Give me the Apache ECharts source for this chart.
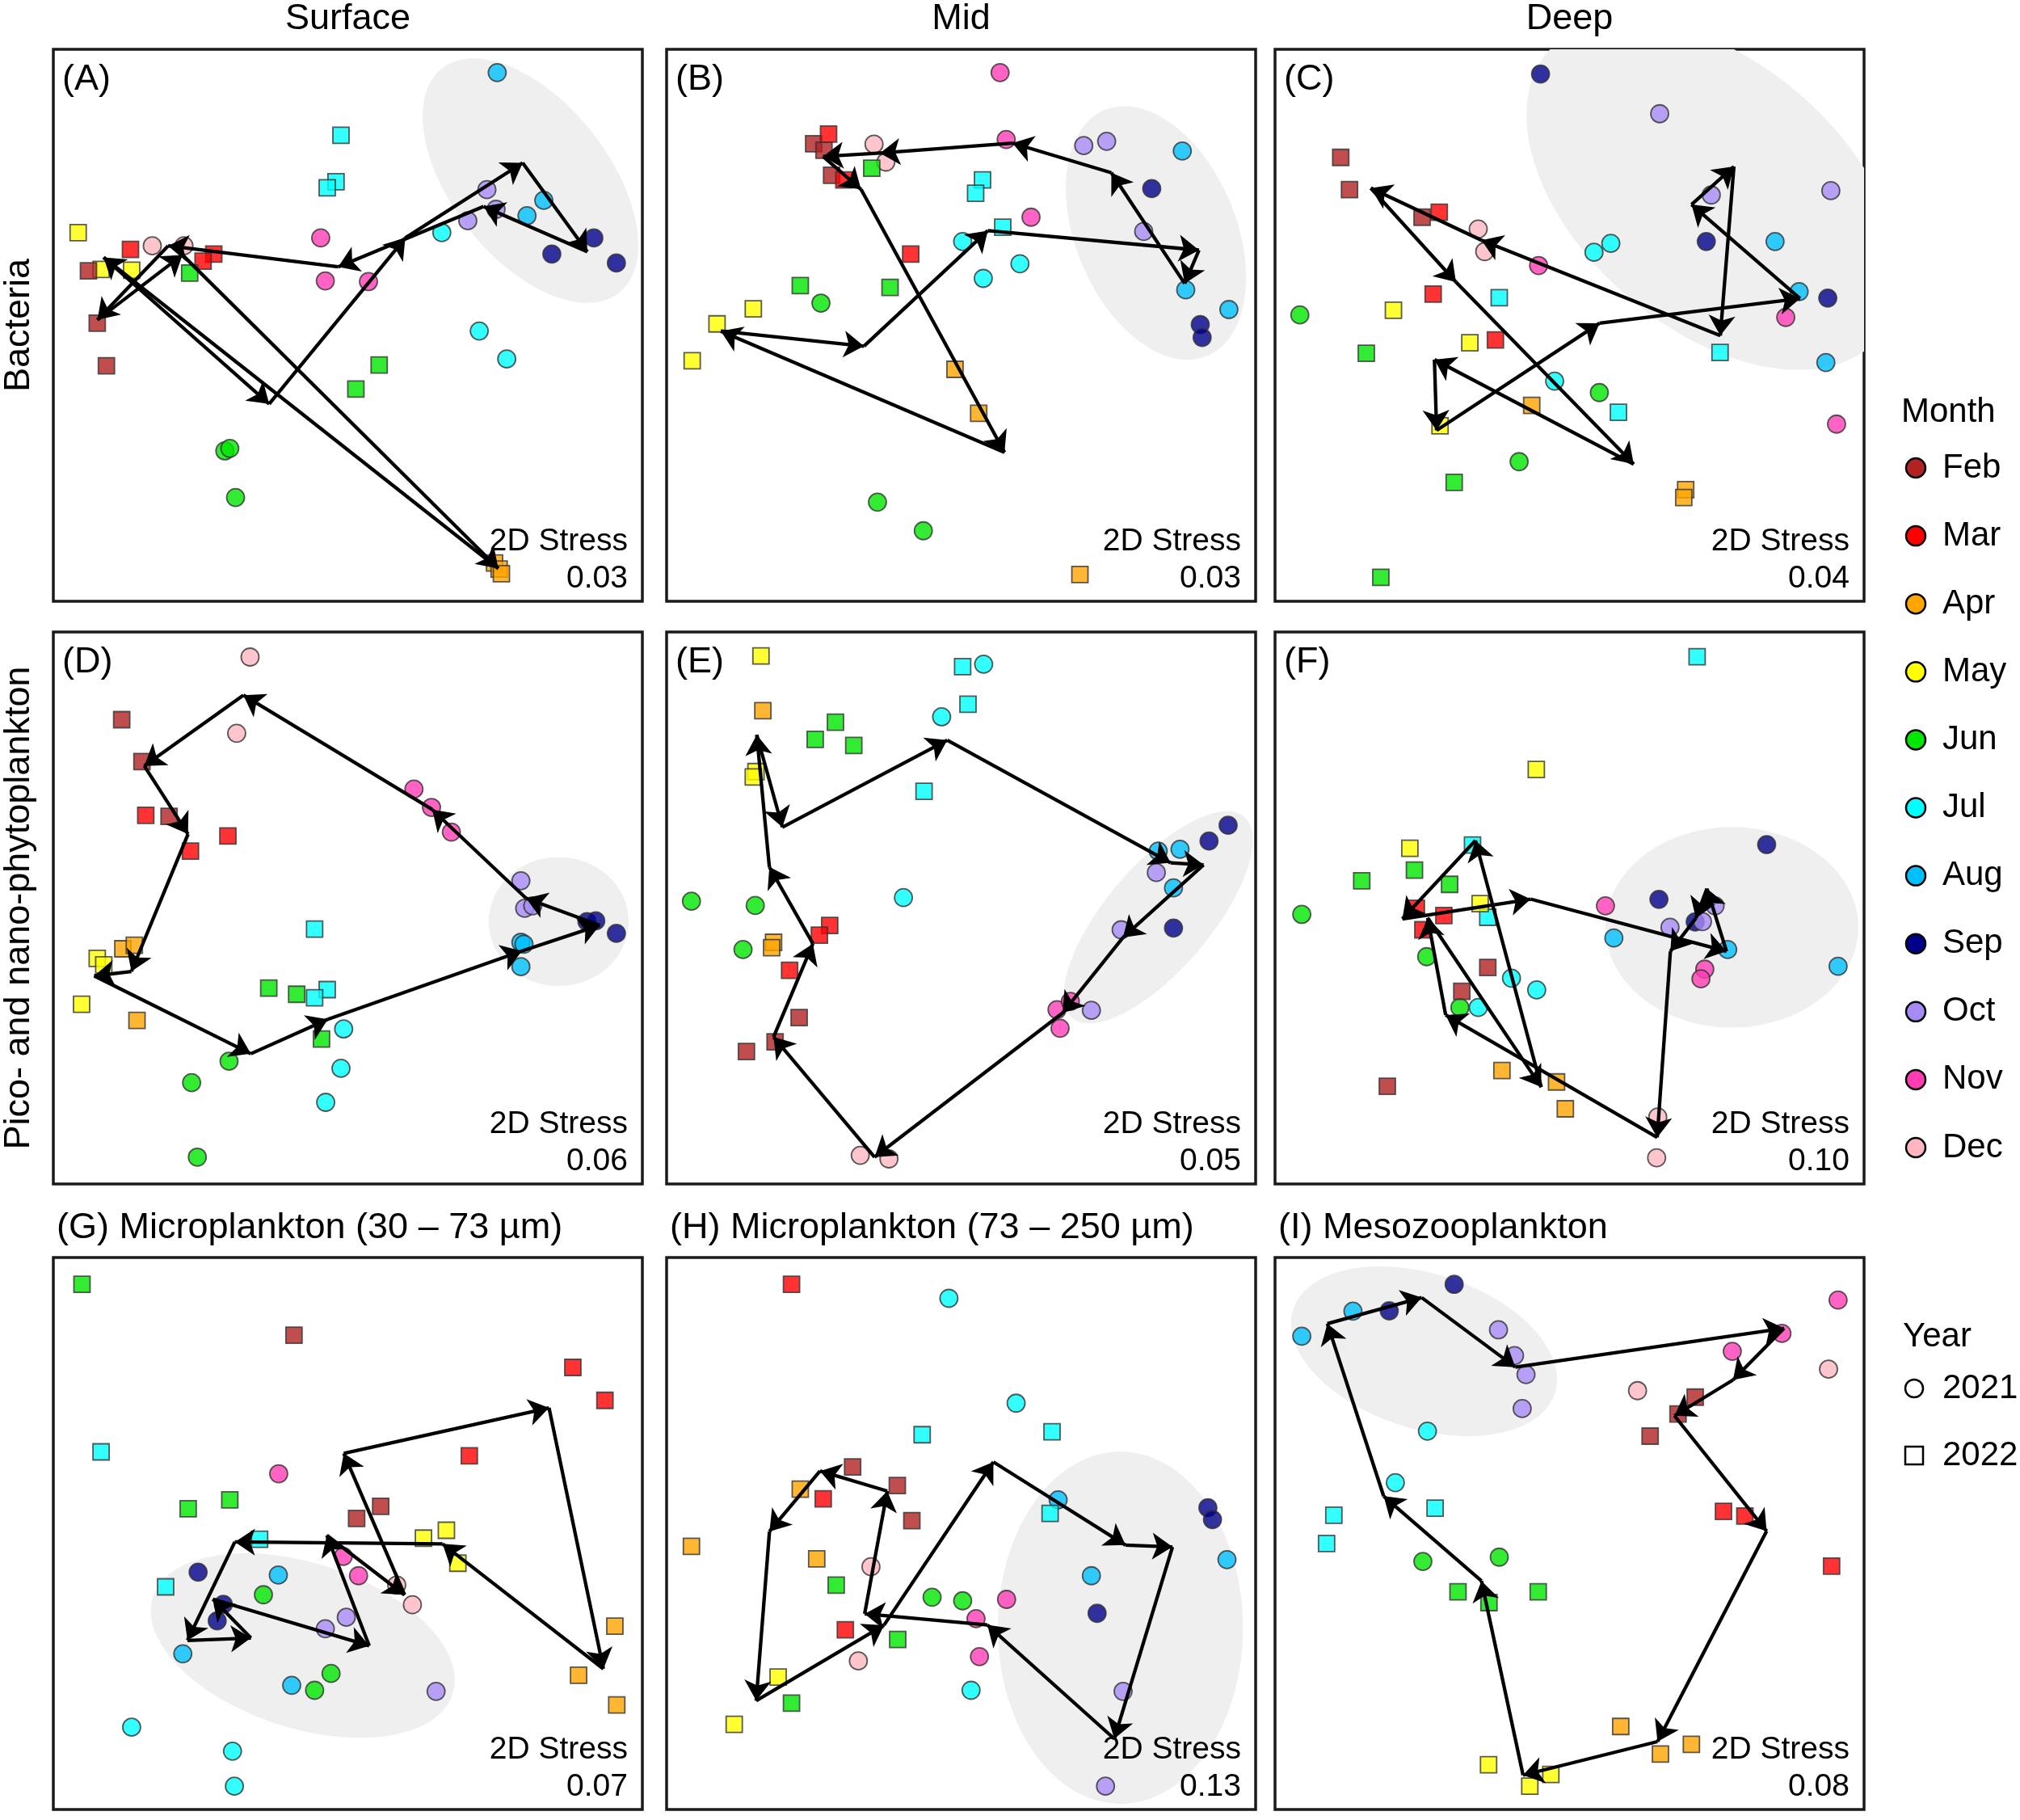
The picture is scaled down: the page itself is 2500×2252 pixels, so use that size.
<!DOCTYPE html>
<html><head><meta charset="utf-8">
<script src="https://cdn.jsdelivr.net/npm/echarts@6/dist/echarts.min.js"></script>
<style>html,body{margin:0;padding:0;background:#fff}#c{width:2500px;height:2252px}</style>
</head><body><div id="c"></div>
<script>
// ---------------- DATA ----------------
const months = ['Feb','Mar','Apr','May','Jun','Jul','Aug','Sep','Oct','Nov','Dec'];
const years = [2021, 2022];
const columnTitles = ['Surface', 'Mid', 'Deep'];
const rowTitles = ['Bacteria', 'Pico- and nano-phytoplankton'];
const panelLabels = ['(A)','(B)','(C)','(D)','(E)','(F)',
  '(G) Microplankton (30 – 73 µm)','(H) Microplankton (73 – 250 µm)','(I) Mesozooplankton'];
const stressValues = ['0.03','0.03','0.04','0.06','0.05','0.10','0.07','0.13','0.08'];

// NMDS points: [x, y (downwards), month, year]
const pointsA = [
 [117.5,7.8,'Aug',2021],[129.7,43.5,'Aug',2021],[125.3,47.8,'Aug',2021],
 [114.8,40.5,'Oct',2021],[117.2,46.0,'Oct',2021],[109.8,49.2,'Oct',2021],
 [142.8,54.0,'Sep',2021],[131.8,58.5,'Sep',2021],[148.7,61.0,'Sep',2021],
 [103.0,52.5,'Jul',2021],[112.8,80.0,'Jul',2021],[120.0,87.8,'Jul',2021],
 [71.3,54.0,'Nov',2021],[72.5,66.0,'Nov',2021],[83.8,66.2,'Nov',2021],
 [27.2,56.2,'Dec',2021],[35.5,56.2,'Dec',2021],
 [46.2,113.5,'Jun',2021],[47.5,112.8,'Jun',2021],[49.0,126.5,'Jun',2021],
 [76.6,25.3,'Jul',2022],[75.3,38.3,'Jul',2022],[73.0,40.0,'Jul',2022],
 [7.8,52.5,'May',2022],[13.8,62.8,'May',2022],[21.8,63.0,'May',2022],
 [21.5,57.2,'Mar',2022],[43.3,58.5,'Mar',2022],[40.5,60.5,'Mar',2022],
 [10.5,63.2,'Feb',2022],[12.8,77.8,'Feb',2022],[15.2,89.7,'Feb',2022],
 [37.0,63.8,'Jun',2022],[86.6,89.5,'Jun',2022],[80.5,96.2,'Jun',2022],
 [116.8,144.8,'Apr',2022],[118.0,146.5,'Apr',2022],[118.6,147.8,'Apr',2022]
];
const pointsB = [
 [88.6,7.8,'Nov',2021],[90.2,26.5,'Nov',2021],[96.7,48.2,'Nov',2021],
 [55.6,27.8,'Dec',2021],[58.7,32.8,'Dec',2021],
 [110.5,28.2,'Oct',2021],[116.5,27.0,'Oct',2021],[126.2,52.2,'Oct',2021],
 [136.3,29.7,'Aug',2021],[137.2,68.5,'Aug',2021],[148.5,74.0,'Aug',2021],
 [128.3,40.2,'Sep',2021],[141.0,78.2,'Sep',2021],[141.5,81.8,'Sep',2021],
 [78.8,55.0,'Jul',2021],[93.8,61.2,'Jul',2021],[84.2,65.3,'Jul',2021],
 [41.7,72.2,'Jun',2021],[56.5,127.8,'Jun',2021],[68.5,135.8,'Jun',2021],
 [39.8,27.7,'Feb',2022],[42.5,29.5,'Feb',2022],[44.5,36.5,'Feb',2022],
 [43.7,25.0,'Mar',2022],[47.7,37.8,'Mar',2022],[65.2,58.5,'Mar',2022],
 [55.0,34.5,'Jun',2022],[36.3,67.3,'Jun',2022],[59.8,67.8,'Jun',2022],
 [84.0,37.8,'Jul',2022],[82.2,41.5,'Jul',2022],[89.3,51.0,'Jul',2022],
 [14.5,78.0,'May',2022],[24.0,73.8,'May',2022],[8.0,88.3,'May',2022],
 [76.8,90.7,'Apr',2022],[83.0,103.0,'Apr',2022],[109.5,148.0,'Apr',2022]
];
const pointsC = [
 [70.8,8.2,'Sep',2021],[114.2,55.0,'Sep',2021],[146.0,70.8,'Sep',2021],
 [102.0,19.3,'Oct',2021],[115.5,42.0,'Oct',2021],[146.8,40.8,'Oct',2021],
 [54.5,51.5,'Dec',2021],[56.2,57.8,'Dec',2021],
 [70.3,61.7,'Nov',2021],[135.0,76.2,'Nov',2021],[148.3,106.0,'Nov',2021],
 [84.8,58.0,'Jul',2021],[89.2,55.5,'Jul',2021],[74.5,94.0,'Jul',2021],
 [132.2,55.0,'Aug',2021],[138.5,69.0,'Aug',2021],[145.5,88.8,'Aug',2021],
 [7.8,75.5,'Jun',2021],[86.2,97.2,'Jun',2021],[65.2,116.5,'Jun',2021],
 [18.5,31.5,'Feb',2022],[20.8,40.5,'Feb',2022],[39.8,48.2,'Feb',2022],
 [44.3,46.8,'Mar',2022],[42.7,69.7,'Mar',2022],[59.0,82.5,'Mar',2022],
 [32.3,74.2,'May',2022],[52.3,83.3,'May',2022],[44.5,106.5,'May',2022],
 [25.2,86.2,'Jun',2022],[48.2,122.3,'Jun',2022],[29.0,148.8,'Jun',2022],
 [60.0,70.7,'Jul',2022],[117.8,86.0,'Jul',2022],[91.2,102.7,'Jul',2022],
 [68.5,100.8,'Apr',2022],[108.8,124.3,'Apr',2022],[108.3,126.5,'Apr',2022]
];
const pointsD = [
 [52.8,8.3,'Dec',2021],[49.3,29.6,'Dec',2021],
 [95.7,45.2,'Nov',2021],[100.3,50.3,'Nov',2021],[105.5,57.2,'Nov',2021],
 [123.7,70.8,'Oct',2021],[124.7,78.5,'Oct',2021],[126.8,77.8,'Oct',2021],
 [141.0,82.2,'Sep',2021],[143.3,82.0,'Sep',2021],[148.7,85.5,'Sep',2021],
 [123.7,88.0,'Aug',2021],[124.5,88.5,'Aug',2021],[123.7,94.8,'Aug',2021],
 [47.3,121.2,'Jun',2021],[37.5,127.2,'Jun',2021],[39.0,148.0,'Jun',2021],
 [77.3,112.2,'Jul',2021],[76.6,123.2,'Jul',2021],[72.6,132.7,'Jul',2021],
 [19.2,25.8,'Feb',2022],[24.5,37.5,'Feb',2022],[31.6,52.8,'Feb',2022],
 [25.5,52.5,'Mar',2022],[47.0,58.3,'Mar',2022],[37.2,62.5,'Mar',2022],
 [19.5,89.8,'Apr',2022],[22.5,88.8,'Apr',2022],[23.2,109.8,'Apr',2022],
 [12.8,92.5,'May',2022],[14.5,94.3,'May',2022],[8.7,105.3,'May',2022],
 [57.7,100.8,'Jun',2022],[65.0,102.5,'Jun',2022],[71.5,115.0,'Jun',2022],
 [69.7,84.3,'Jul',2022],[73.0,101.2,'Jul',2022],[69.7,103.5,'Jul',2022]
];
const pointsE = [
 [84.3,10.3,'Jul',2021],[73.3,25.0,'Jul',2021],[63.3,75.5,'Jul',2021],
 [7.8,76.5,'Jun',2021],[24.5,77.7,'Jun',2021],[21.3,90.0,'Jun',2021],
 [130.0,62.5,'Aug',2021],[135.7,62.0,'Aug',2021],[134.0,72.8,'Aug',2021],
 [129.5,68.5,'Oct',2021],[120.3,84.5,'Oct',2021],[112.5,107.0,'Oct',2021],
 [148.3,55.3,'Sep',2021],[143.3,59.7,'Sep',2021],[134.0,84.0,'Sep',2021],
 [103.5,106.8,'Nov',2021],[107.0,104.5,'Nov',2021],[104.3,112.0,'Nov',2021],
 [52.0,147.5,'Dec',2021],[59.5,148.5,'Dec',2021],
 [26.0,8.0,'May',2022],[24.7,40.3,'May',2022],[24.0,41.8,'May',2022],
 [26.5,23.3,'Apr',2022],[29.3,88.0,'Apr',2022],[28.8,89.5,'Apr',2022],
 [45.5,26.5,'Jun',2022],[40.2,31.3,'Jun',2022],[50.3,33.0,'Jun',2022],
 [78.8,11.0,'Jul',2022],[80.2,21.5,'Jul',2022],[68.7,45.8,'Jul',2022],
 [44.0,83.3,'Mar',2022],[41.3,86.0,'Mar',2022],[33.5,95.8,'Mar',2022],
 [36.0,109.0,'Feb',2022],[22.2,118.5,'Feb',2022],[29.7,115.8,'Feb',2022]
];
const pointsF = [
 [8.3,80.2,'Jun',2021],[41.0,92.0,'Jun',2021],[49.7,106.2,'Jun',2021],
 [63.2,98.0,'Jul',2021],[69.8,101.3,'Jul',2021],[54.5,106.2,'Jul',2021],
 [87.8,77.8,'Nov',2021],[113.8,95.5,'Nov',2021],[112.8,98.2,'Nov',2021],
 [90.0,86.8,'Aug',2021],[119.8,90.0,'Aug',2021],[148.7,94.7,'Aug',2021],
 [130.0,60.7,'Sep',2021],[101.8,76.0,'Sep',2021],[111.3,82.3,'Sep',2021],
 [116.5,77.8,'Oct',2021],[113.2,82.2,'Oct',2021],[104.7,83.8,'Oct',2021],
 [101.5,136.8,'Dec',2021],[101.2,148.2,'Dec',2021],
 [111.8,8.2,'Jul',2022],[53.0,60.8,'Jul',2022],[57.0,81.0,'Jul',2022],
 [69.7,39.7,'May',2022],[36.6,61.7,'May',2022],[55.0,77.2,'May',2022],
 [24.0,70.8,'Jun',2022],[37.8,67.8,'Jun',2022],[47.0,71.8,'Jun',2022],
 [38.3,78.5,'Mar',2022],[45.5,80.5,'Mar',2022],[40.0,84.5,'Mar',2022],
 [57.0,95.0,'Feb',2022],[50.2,101.7,'Feb',2022],[30.7,128.2,'Feb',2022],
 [60.7,123.8,'Apr',2022],[75.0,127.0,'Apr',2022],[77.3,134.5,'Apr',2022]
];
const pointsG = [
 [60.3,61.7,'Nov',2021],[77.2,84.8,'Nov',2021],[81.2,90.2,'Nov',2021],
 [39.2,89.2,'Sep',2021],[45.8,98.2,'Sep',2021],[44.2,102.8,'Sep',2021],
 [60.2,90.0,'Aug',2021],[35.2,112.0,'Aug',2021],[63.7,120.8,'Aug',2021],
 [56.3,95.5,'Jun',2021],[74.0,117.5,'Jun',2021],[69.7,122.2,'Jun',2021],
 [78.0,101.8,'Oct',2021],[72.5,105.0,'Oct',2021],[101.5,122.5,'Oct',2021],
 [91.2,92.8,'Dec',2021],[95.3,98.3,'Dec',2021],
 [21.8,132.5,'Jul',2021],[48.2,139.2,'Jul',2021],[48.7,149.0,'Jul',2021],
 [8.8,8.8,'Jun',2022],[36.6,71.5,'Jun',2022],[47.5,69.0,'Jun',2022],
 [64.3,23.0,'Feb',2022],[80.7,74.2,'Feb',2022],[87.0,70.8,'Feb',2022],
 [137.3,32.0,'Mar',2022],[145.7,41.2,'Mar',2022],[110.2,56.7,'Mar',2022],
 [13.8,55.6,'Jul',2022],[55.3,80.0,'Jul',2022],[30.7,93.3,'Jul',2022],
 [98.2,79.7,'May',2022],[104.2,77.5,'May',2022],[107.2,86.7,'May',2022],
 [148.3,104.3,'Apr',2022],[138.8,118.0,'Apr',2022],[148.8,126.3,'Apr',2022]
];
const pointsH = [
 [75.2,12.7,'Jul',2021],[92.8,42.0,'Jul',2021],[81.0,122.2,'Jul',2021],
 [54.8,87.7,'Dec',2021],[51.5,114.0,'Dec',2021],
 [70.8,96.2,'Jun',2021],[78.8,97.2,'Jun',2021],
 [90.3,96.8,'Nov',2021],[82.3,102.2,'Nov',2021],[83.2,112.8,'Nov',2021],
 [103.8,69.0,'Aug',2021],[112.5,90.2,'Aug',2021],[148.0,85.7,'Aug',2021],
 [143.0,71.2,'Sep',2021],[144.2,74.5,'Sep',2021],[114.0,100.7,'Sep',2021],
 [120.8,122.5,'Oct',2021],[116.2,149.0,'Oct',2021],
 [34.0,8.8,'Mar',2022],[42.3,68.7,'Mar',2022],[48.1,105.3,'Mar',2022],
 [68.2,50.8,'Jul',2022],[102.2,50.0,'Jul',2022],[101.7,72.8,'Jul',2022],
 [50.0,59.8,'Feb',2022],[61.7,65.0,'Feb',2022],[65.5,74.8,'Feb',2022],
 [36.3,66.0,'Apr',2022],[7.8,82.0,'Apr',2022],[40.6,85.5,'Apr',2022],
 [45.7,92.8,'Jun',2022],[61.8,108.0,'Jun',2022],[34.0,125.8,'Jun',2022],
 [30.5,118.5,'May',2022],[19.0,131.7,'May',2022]
];
const pointsI = [
 [8.3,23.3,'Aug',2021],[21.7,16.3,'Aug',2021],
 [31.2,16.2,'Sep',2021],[48.2,8.8,'Sep',2021],
 [59.8,21.5,'Oct',2021],[64.0,28.7,'Oct',2021],[67.0,34.0,'Oct',2021],[66.0,43.5,'Oct',2021],
 [41.2,49.8,'Jul',2021],[32.8,64.2,'Jul',2021],
 [40.0,86.2,'Jun',2021],[60.0,85.0,'Jun',2021],
 [148.7,13.2,'Nov',2021],[134.0,22.5,'Nov',2021],[121.0,27.5,'Nov',2021],
 [96.2,38.5,'Dec',2021],[146.2,32.5,'Dec',2021],
 [111.3,40.3,'Feb',2022],[106.8,45.0,'Feb',2022],[99.5,51.2,'Feb',2022],
 [118.7,72.2,'Mar',2022],[124.3,73.5,'Mar',2022],[147.0,87.5,'Mar',2022],
 [16.7,73.3,'Jul',2022],[14.8,81.2,'Jul',2022],[43.2,71.3,'Jul',2022],
 [49.2,94.7,'Jun',2022],[57.3,97.7,'Jun',2022],[70.2,94.7,'Jun',2022],
 [91.8,132.3,'Apr',2022],[102.2,140.0,'Apr',2022],[110.3,137.3,'Apr',2022],
 [57.2,143.0,'May',2022],[68.0,149.0,'May',2022],[73.5,145.7,'May',2022]
];
// shaded cluster ellipses: [centre x, centre y, semi-major, semi-minor, angle deg]
const ellipseA = [126.2, 38.0, 39.0, 21.0, 55];
const ellipseB = [129.4, 52.6, 36.9, 21.2, 70];
const ellipseC = [116.0, 42.0, 59.0, 36.0, 45];
const ellipseD = [133.6, 82.2, 18.3, 18.0, 0];
const ellipseE = [130.0, 81.0, 36.0, 14.0, -52];
const ellipseF = [120.9, 83.8, 33.1, 28.0, 0];
const ellipseG = [66.6, 109.7, 41.5, 22.9, 20];
const ellipseH = [120.1, 104.7, 49.2, 32.1, 90];
const ellipseI = [40.3, 27.5, 36.2, 21.5, 20];

const panelPoints = [pointsA, pointsB, pointsC, pointsD, pointsE, pointsF, pointsG, pointsH, pointsI];
const panelEllipses = [ellipseA, ellipseB, ellipseC, ellipseD, ellipseE, ellipseF, ellipseG, ellipseH, ellipseI];

// ---------------- STYLE / LAYOUT ----------------
const monthColors = {Feb:'#b22222', Mar:'#ff0000', Apr:'#ffa500', May:'#ffff00', Jun:'#00e600',
  Jul:'#00ffff', Aug:'#00bfff', Sep:'#00008b', Oct:'#a78bf5', Nov:'#ff3cb4', Dec:'#ffb6c1'};
const FONT = '"Liberation Sans", Arial, sans-serif';
const colLeft = [66, 825, 1578], rowTop = [61, 782, 1556], PW = 729, PH = 683;
const AX_MIN = 1.3, AX_MAX = 155.5;

const grids = [], xAxes = [], yAxes = [], series = [], graphics = [];

function centroid(pts, m) {
  const s = pts.filter(p => p[2] === m);
  if (!s.length) return null;
  return [s.reduce((a, p) => a + p[0], 0) / s.length, s.reduce((a, p) => a + p[1], 0) / s.length];
}
function txt(x, y, text, size, align, extra) {
  return Object.assign({type: 'text', x: x, y: y, z: 100,
    style: {text: text, font: size + 'px ' + FONT, fill: '#000', textAlign: align, textVerticalAlign: 'middle'}}, extra || {});
}

panelPoints.forEach((pts, i) => {
  const r = Math.floor(i / 3), c = i % 3;
  grids.push({left: colLeft[c], top: rowTop[r], width: PW, height: PH, show: true,
    borderColor: '#1a1a1a', borderWidth: 3.5, backgroundColor: 'transparent', containLabel: false});
  xAxes.push({gridIndex: i, type: 'value', min: AX_MIN, max: AX_MAX, show: false});
  yAxes.push({gridIndex: i, type: 'value', min: AX_MIN, max: AX_MAX, inverse: true, show: false});

  series.push({
    type: 'custom', xAxisIndex: i, yAxisIndex: i, clip: true, silent: true, z: 1,
    data: [panelEllipses[i]],
    renderItem: (params, api) => {
      const cx = api.value(0), cy = api.value(1), a = api.value(2), b = api.value(3);
      const th = api.value(4) * Math.PI / 180;
      const out = [];
      for (let k = 0; k < 144; k++) {
        const t = 2 * Math.PI * k / 144, dx = a * Math.cos(t), dy = b * Math.sin(t);
        out.push(api.coord([cx + dx * Math.cos(th) - dy * Math.sin(th), cy + dx * Math.sin(th) + dy * Math.cos(th)]));
      }
      return {type: 'polygon', shape: {points: out}, style: {fill: '#efefef'}};
    }
  });

  series.push({
    type: 'scatter', xAxisIndex: i, yAxisIndex: i, z: 3, silent: true,
    data: pts.map(p => ({
      value: [p[0], p[1]],
      symbol: p[3] === 2021 ? 'circle' : 'rect',
      symbolSize: p[3] === 2021 ? 22 : 20,
      itemStyle: {color: monthColors[p[2]], borderColor: '#333', borderWidth: 1.8}
    }))
  });

  const cents = months.map(m => centroid(pts, m));
  const segs = [];
  for (let k = 0; k < cents.length; k++) {
    const a = cents[k], b = cents[(k + 1) % cents.length];
    if (a && b) segs.push({coords: [a, b]});
  }
  series.push({
    type: 'lines', coordinateSystem: 'cartesian2d', xAxisIndex: i, yAxisIndex: i, z: 4, silent: true,
    symbol: ['none', 'arrow'], symbolSize: 25,
    lineStyle: {color: '#000', width: 4.3, opacity: 1, curveness: 0},
    data: segs
  });

  if (i < 6) graphics.push(txt(colLeft[c] + 11, rowTop[r] + 38, panelLabels[i], 45, 'left'));
  else graphics.push(txt(colLeft[c] + 4, rowTop[r] - 36, panelLabels[i], 45, 'left'));
  graphics.push(txt(colLeft[c] + PW - 18, rowTop[r] + 609, '2D Stress', 39, 'right'));
  graphics.push(txt(colLeft[c] + PW - 18, rowTop[r] + 655, stressValues[i], 39, 'right'));
});

columnTitles.forEach((t, c) => graphics.push(txt(colLeft[c] + PW / 2, 24, t, 45, 'center')));
rowTitles.forEach((t, r) => graphics.push(txt(24, rowTop[r] + PH / 2, t, 45, 'center', {rotation: Math.PI / 2})));

// legend
graphics.push(txt(2353, 510, 'Month', 42, 'left'));
months.forEach((m, k) => {
  const y = 579 + 84.1 * k;
  graphics.push({type: 'circle', z: 100, shape: {cx: 2371, cy: y, r: 12}, style: {fill: monthColors[m], stroke: '#000', lineWidth: 2.5}});
  graphics.push(txt(2404, y, m, 42, 'left'));
});
graphics.push(txt(2355, 1654, 'Year', 42, 'left'));
years.forEach((yr, k) => {
  const y = 1718 + 83 * k;
  if (yr === 2021) graphics.push({type: 'circle', z: 100, shape: {cx: 2369, cy: y, r: 11}, style: {fill: 'none', stroke: '#000', lineWidth: 2.5}});
  else graphics.push({type: 'rect', z: 100, shape: {x: 2358, y: y - 11, width: 22, height: 22}, style: {fill: 'none', stroke: '#000', lineWidth: 2.5}});
  graphics.push(txt(2404, y, String(yr), 42, 'left'));
});

const chart = echarts.init(document.getElementById('c'), null, {renderer: 'canvas'});
chart.setOption({
  backgroundColor: '#fff', animation: false,
  grid: grids, xAxis: xAxes, yAxis: yAxes, series: series, graphic: graphics
});
</script></body></html>
